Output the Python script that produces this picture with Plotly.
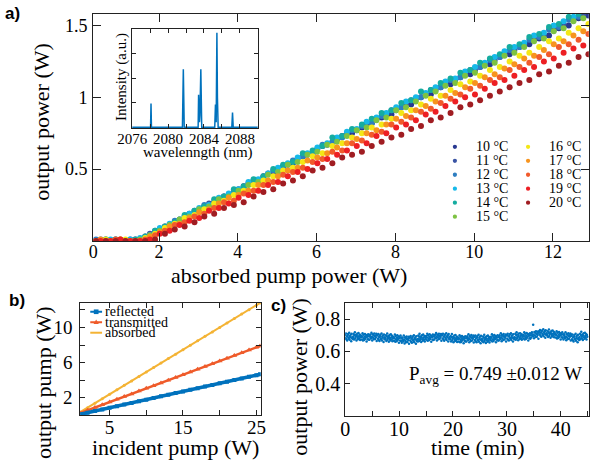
import plotly.graph_objects as go
import numpy as np

SERIF = "Liberation Serif"
SANS = "Liberation Sans"

# ---------------- panel a: output power vs absorbed pump power ----------------
abs_grid_a = [0.40, 0.65, 0.90, 1.15, 1.40, 1.65, 1.90, 2.15, 2.40, 2.65, 2.90, 3.15, 3.40,
              3.65, 3.90, 4.15, 4.40, 4.65, 4.90, 5.15, 5.40, 5.65, 5.90, 6.15, 6.40, 6.65,
              6.90, 7.15, 7.40, 7.65, 7.90, 8.15, 8.40, 8.65, 8.90, 9.15, 9.40, 9.65, 9.90,
              10.15, 10.40, 10.65, 10.90, 11.15, 11.40, 11.65, 11.90, 12.15, 12.40, 12.65, 12.90]
abs_grid_b = [0.52, 0.77, 1.02, 1.27, 1.52, 1.77, 2.02, 2.27, 2.52, 2.77, 3.02, 3.27, 3.52,
              3.77, 4.02, 4.27, 4.52, 4.77, 5.02, 5.27, 5.52, 5.77, 6.02, 6.27, 6.52, 6.77,
              7.02, 7.27, 7.52, 7.77, 8.02, 8.27, 8.52, 8.77, 9.02, 9.27, 9.52, 9.77, 10.02,
              10.27, 10.52, 10.77, 11.02, 11.27, 11.52, 11.77, 12.02, 12.27, 12.52, 12.77]

p10 = [0.00, 0.01, 0.00, 0.00, 0.01,
       0.03, 0.06, 0.10, 0.13, 0.17, 0.19, 0.24, 0.27, 0.31, 0.33, 0.38, 0.40, 0.45, 0.47, 0.52,
       0.54, 0.59, 0.61, 0.66, 0.68, 0.73, 0.75, 0.79, 0.82, 0.86, 0.88, 0.93, 0.95, 1.00, 1.02,
       1.07, 1.09, 1.14, 1.16, 1.21, 1.23, 1.28, 1.30, 1.35, 1.37, 1.41, 1.43, 1.48, 1.50, 1.55, 1.57]
p11 = [0.01, 0.00, 0.00, 0.01,
       0.01, 0.05, 0.08, 0.11, 0.15, 0.19, 0.21, 0.26, 0.29, 0.32, 0.36, 0.40, 0.42, 0.47, 0.49,
       0.53, 0.57, 0.60, 0.64, 0.67, 0.70, 0.75, 0.77, 0.81, 0.85, 0.88, 0.91, 0.95, 0.99, 1.02,
       1.05, 1.09, 1.12, 1.16, 1.19, 1.23, 1.26, 1.30, 1.33, 1.37, 1.40, 1.43, 1.47, 1.51, 1.54, 1.57]
p12 = [0.01, 0.00, 0.01, 0.00, 0.00,
       0.02, 0.07, 0.09, 0.14, 0.16, 0.21, 0.25, 0.26, 0.31, 0.35, 0.37, 0.42, 0.44, 0.49, 0.51,
       0.56, 0.59, 0.61, 0.67, 0.69, 0.72, 0.77, 0.80, 0.82, 0.87, 0.91, 0.93, 0.98, 1.00, 1.05,
       1.07, 1.12, 1.14, 1.19, 1.21, 1.26, 1.28, 1.33, 1.35, 1.40, 1.42, 1.47, 1.49, 1.54, 1.56, 1.60]
p13 = [0.00, 0.01, 0.00, 0.01,
       0.02, 0.04, 0.09, 0.12, 0.15, 0.19, 0.23, 0.25, 0.30, 0.33, 0.36, 0.41, 0.43, 0.47, 0.51,
       0.54, 0.58, 0.61, 0.65, 0.68, 0.72, 0.76, 0.78, 0.83, 0.86, 0.89, 0.93, 0.97, 1.00, 1.03,
       1.07, 1.11, 1.13, 1.18, 1.21, 1.24, 1.28, 1.32, 1.35, 1.38, 1.43, 1.45, 1.50, 1.53, 1.56, 1.60]
p14 = [0.00, 0.01, 0.01, 0.00, 0.01,
       0.03, 0.07, 0.10, 0.13, 0.18, 0.21, 0.24, 0.29, 0.31, 0.36, 0.38, 0.43, 0.45, 0.50, 0.53,
       0.55, 0.61, 0.63, 0.66, 0.72, 0.73, 0.78, 0.81, 0.85, 0.89, 0.91, 0.96, 0.98, 1.04, 1.05,
       1.10, 1.13, 1.17, 1.19, 1.24, 1.27, 1.30, 1.35, 1.37, 1.42, 1.44, 1.49, 1.51, 1.56, 1.58, 1.62]
p15 = [0.00, 0.00, 0.01, 0.00,
       0.01, 0.04, 0.07, 0.11, 0.15, 0.17, 0.22, 0.24, 0.29, 0.31, 0.35, 0.39, 0.41, 0.46, 0.48,
       0.53, 0.55, 0.60, 0.62, 0.67, 0.69, 0.73, 0.77, 0.79, 0.84, 0.86, 0.91, 0.93, 0.97, 1.01,
       1.04, 1.08, 1.10, 1.15, 1.17, 1.22, 1.24, 1.29, 1.31, 1.35, 1.39, 1.41, 1.46, 1.48, 1.53, 1.55]
p16 = [0.00, 0.01, 0.00, 0.01, 0.00,
       0.02, 0.05, 0.09, 0.12, 0.16, 0.18, 0.22, 0.26, 0.28, 0.32, 0.35, 0.39, 0.42, 0.45, 0.49,
       0.51, 0.55, 0.59, 0.61, 0.66, 0.68, 0.72, 0.75, 0.79, 0.81, 0.85, 0.89, 0.91, 0.95, 0.99,
       1.01, 1.05, 1.09, 1.11, 1.15, 1.19, 1.21, 1.25, 1.29, 1.31, 1.35, 1.39, 1.41, 1.45, 1.48, 1.51]
p17 = [0.01, 0.00, 0.01, 0.00, 0.00,
       0.03, 0.06, 0.10, 0.12, 0.16, 0.20, 0.22, 0.26, 0.30, 0.32, 0.35, 0.39, 0.42, 0.45, 0.49,
       0.51, 0.56, 0.58, 0.61, 0.65, 0.68, 0.71, 0.75, 0.77, 0.81, 0.85, 0.87, 0.91, 0.94, 0.97,
       1.01, 1.03, 1.07, 1.10, 1.14, 1.16, 1.20, 1.23, 1.27, 1.29, 1.33, 1.37, 1.39, 1.43, 1.46]
p18 = [0.00, 0.00, 0.01, 0.00, 0.00,
       0.01, 0.04, 0.07, 0.11, 0.13, 0.17, 0.19, 0.23, 0.27, 0.28, 0.33, 0.35, 0.39, 0.41, 0.46,
       0.48, 0.51, 0.55, 0.57, 0.62, 0.63, 0.68, 0.70, 0.74, 0.76, 0.81, 0.83, 0.86, 0.90, 0.92,
       0.96, 0.99, 1.02, 1.06, 1.08, 1.12, 1.14, 1.19, 1.21, 1.24, 1.28, 1.30, 1.35, 1.37, 1.40, 1.44]
p19 = [0.00, 0.00, 0.01, 0.00, 0.00,
       0.01, 0.05, 0.07, 0.11, 0.14, 0.16, 0.21, 0.23, 0.26, 0.30, 0.32, 0.35, 0.39, 0.41, 0.45,
       0.48, 0.50, 0.54, 0.57, 0.60, 0.63, 0.66, 0.68, 0.73, 0.75, 0.79, 0.81, 0.84, 0.88, 0.90,
       0.94, 0.97, 1.00, 1.02, 1.06, 1.10, 1.12, 1.15, 1.19, 1.21, 1.25, 1.27, 1.31, 1.34, 1.36]
p20 = [0.00, 0.00, 0.00, 0.00, 0.00, 0.00,
       0.01, 0.05, 0.08, 0.10, 0.13, 0.17, 0.19, 0.23, 0.25, 0.27, 0.31, 0.34, 0.36, 0.40, 0.42,
       0.45, 0.49, 0.51, 0.54, 0.58, 0.60, 0.62, 0.66, 0.69, 0.72, 0.74, 0.78, 0.80, 0.84, 0.86,
       0.89, 0.93, 0.95, 0.98, 1.01, 1.04, 1.07, 1.10, 1.12, 1.16, 1.18, 1.22, 1.24, 1.28, 1.30]

temp_labels = ["10 °C", "11 °C", "12 °C", "13 °C", "14 °C", "15 °C",
               "16 °C", "17 °C", "18 °C", "19 °C", "20 °C"]
temp_series = [p10, p11, p12, p13, p14, p15, p16, p17, p18, p19, p20]
temp_grids = [abs_grid_a, abs_grid_b, abs_grid_a, abs_grid_b, abs_grid_a, abs_grid_b,
              abs_grid_a, abs_grid_b, abs_grid_a, abs_grid_b, abs_grid_a]
temp_colors = ["#283891", "#3A54A4", "#2E7EC1", "#16B9E9", "#15ACA0", "#7DC242",
               "#F3E716", "#F7941E", "#F15A2B", "#ED1F24", "#A01D22"]

# inset: laser spectrum
wavelength = [2076.0, 2078.05, 2078.1, 2078.15, 2081.6, 2081.7, 2081.8, 2083.35, 2083.4,
              2083.5, 2083.55, 2083.65, 2083.75, 2085.2, 2085.28, 2085.36, 2085.44, 2085.5,
              2085.58, 2087.1, 2087.18, 2087.26, 2090.0]
intensity = [0, 0, 0.24, 0, 0, 0.59, 0, 0, 0.33, 0.05, 0.12, 0.59, 0, 0, 0.23, 0.05,
             0.96, 0.3, 0, 0, 0.15, 0, 0]

# ---------------- panel b: pump budget ----------------
incident_pump = [1, 2, 3, 4, 5, 6, 7, 8, 9, 10, 11, 12, 13, 14, 15, 16, 17, 18, 19, 20,
                 21, 22, 23, 24, 25, 25.5]
reflected = [0.10, 0.29, 0.47, 0.66, 0.84, 1.03, 1.22, 1.40, 1.59, 1.77, 1.96, 2.15, 2.33,
             2.52, 2.70, 2.89, 3.08, 3.26, 3.45, 3.63, 3.82, 4.01, 4.19, 4.38, 4.56, 4.66]
transmitted = [0.25, 0.56, 0.87, 1.19, 1.50, 1.81, 2.12, 2.43, 2.75, 3.06, 3.37, 3.68, 3.99,
               4.31, 4.62, 4.93, 5.24, 5.55, 5.87, 6.18, 6.49, 6.80, 7.11, 7.43, 7.74, 7.89]
absorbed = [0.35, 0.86, 1.37, 1.87, 2.38, 2.89, 3.40, 3.91, 4.41, 4.92, 5.43, 5.94, 6.45,
            6.95, 7.46, 7.97, 8.48, 8.99, 9.49, 10.00, 10.51, 11.02, 11.53, 12.03, 12.54, 12.80]

# ---------------- panel c: power stability (mW, one sample every 4.5 s) ----------------
sample_step_min = 0.075
stability_mw = [
    702, 682, 711, 675, 693, 668, 699, 707, 686, 679, 715, 672, 696, 688, 704, 663, 709, 681, 691, 677,
    687, 708, 673, 700, 719, 680, 691, 703, 668, 696, 710, 685, 676, 714, 694, 682, 705, 671, 699, 689,
    697, 674, 690, 712, 668, 703, 682, 671, 693, 708, 679, 687, 701, 662, 698, 691, 676, 706, 673, 694,
    672, 697, 704, 687, 680, 716, 691, 667, 706, 684, 701, 675, 711, 694, 677, 698, 688, 709, 665, 702,
    698, 678, 707, 671, 689, 664, 695, 703, 682, 675, 711, 668, 692, 684, 700, 659, 705, 677, 687, 673,
    679, 700, 665, 692, 711, 672, 683, 695, 660, 688, 702, 677, 668, 706, 686, 674, 697, 663, 691, 681,
    689, 666, 682, 704, 660, 695, 674, 663, 685, 700, 671, 679, 693, 654, 690, 683, 668, 698, 665, 686,
    654, 679, 686, 669, 662, 698, 673, 649, 688, 666, 683, 657, 693, 676, 659, 680, 670, 691, 647, 684,
    687, 667, 696, 660, 678, 653, 684, 692, 671, 664, 700, 657, 681, 673, 689, 648, 694, 666, 676, 662,
    677, 698, 663, 690, 709, 670, 681, 693, 658, 686, 700, 675, 666, 704, 684, 672, 695, 661, 689, 679,
    695, 672, 688, 710, 666, 701, 680, 669, 691, 706, 677, 685, 699, 660, 696, 689, 674, 704, 671, 692,
    674, 699, 703, 685, 681, 714, 692, 668, 705, 686, 700, 676, 710, 693, 679, 697, 689, 708, 666, 701,
    700, 680, 709, 673, 691, 666, 697, 705, 684, 677, 713, 670, 694, 686, 702, 661, 707, 679, 689, 675,
    675, 696, 661, 688, 707, 668, 679, 691, 656, 684, 698, 673, 664, 702, 682, 670, 693, 659, 687, 677,
    685, 662, 678, 700, 656, 691, 670, 659, 681, 696, 667, 675, 689, 650, 686, 679, 664, 694, 661, 682,
    662, 687, 694, 677, 670, 706, 681, 657, 696, 674, 691, 665, 701, 684, 667, 688, 678, 699, 655, 692,
    690, 670, 699, 663, 681, 656, 687, 695, 674, 667, 703, 660, 684, 676, 692, 651, 697, 669, 679, 665,
    671, 692, 657, 684, 703, 664, 675, 687, 652, 680, 694, 669, 660, 698, 678, 666, 689, 655, 683, 673,
    691, 668, 684, 706, 662, 697, 676, 665, 687, 702, 673, 681, 695, 656, 692, 685, 670, 700, 667, 688,
    668, 693, 700, 683, 676, 712, 687, 663, 702, 680, 697, 671, 707, 690, 673, 694, 684, 705, 661, 698,
    701, 679, 710, 672, 692, 667, 696, 706, 683, 678, 712, 671, 695, 685, 703, 662, 706, 680, 688, 676,
    686, 709, 672, 701, 718, 681, 690, 704, 669, 695, 711, 684, 677, 713, 695, 681, 706, 672, 698, 690,
    703, 680, 696, 718, 674, 709, 688, 677, 699, 714, 685, 693, 707, 668, 704, 697, 682, 712, 679, 700,
    686, 711, 718, 701, 694, 765, 705, 681, 720, 698, 715, 689, 725, 708, 691, 712, 702, 723, 679, 716,
    724, 704, 733, 697, 715, 690, 721, 729, 708, 701, 737, 694, 718, 710, 726, 685, 731, 703, 713, 699,
    703, 724, 689, 716, 735, 696, 707, 719, 684, 712, 726, 701, 692, 730, 710, 698, 721, 687, 715, 705,
    709, 686, 702, 724, 680, 715, 694, 683, 705, 720, 691, 699, 713, 674, 710, 703, 688, 718, 685, 706,
    674, 699, 706, 689, 682, 718, 693, 669, 708, 686, 703, 677, 713, 696, 679, 700, 690, 711, 667, 704,
    696, 676, 705, 669, 687, 662, 693, 701, 680, 673, 709, 666, 690, 682, 698, 657, 703, 675, 685, 671,
    689, 710, 675, 702, 721, 682, 693, 705, 670, 698, 712, 687, 678, 716, 696, 684, 707, 673, 701, 691,
]
time_min = np.arange(len(stability_mw)) * sample_step_min
stability_w = np.array(stability_mw) / 1000.0

BLUE = "#0072BD"
AX = "#222222"


def axis(**kw):
    d = dict(showline=True, linecolor=AX, linewidth=1, mirror="ticks", ticks="inside",
             ticklen=6, tickcolor=AX, tickwidth=1, showgrid=False, zeroline=False,
             automargin=False,
             tickfont=dict(family=SERIF, size=18, color="black"))
    d.update(kw)
    return d


fig = go.Figure()

# panel a scatter
for label, xs, ys, col in zip(temp_labels, temp_grids, temp_series, temp_colors):
    fig.add_trace(go.Scatter(x=xs, y=ys, mode="markers", name=label,
                             marker=dict(size=6, color=col), xaxis="x", yaxis="y",
                             showlegend=False))

# inset spectrum
fig.add_trace(go.Scatter(x=wavelength, y=intensity, mode="lines",
                         line=dict(color=BLUE, width=1.5), xaxis="x2", yaxis="y2",
                         showlegend=False))

# panel b
fig.add_trace(go.Scatter(x=incident_pump, y=absorbed, mode="lines+markers",
                         line=dict(color="#F4B334", width=2),
                         marker=dict(size=3, color="#F4B334"),
                         xaxis="x3", yaxis="y3", showlegend=False))
fig.add_trace(go.Scatter(x=incident_pump, y=transmitted, mode="lines+markers",
                         line=dict(color="#EF5B2A", width=2.5),
                         marker=dict(size=5, symbol="triangle-up", color="#EF5B2A"),
                         xaxis="x3", yaxis="y3", showlegend=False))
fig.add_trace(go.Scatter(x=incident_pump, y=reflected, mode="lines+markers",
                         line=dict(color=BLUE, width=3.5),
                         marker=dict(size=4, symbol="square", color=BLUE),
                         xaxis="x3", yaxis="y3", showlegend=False))

# panel c
fig.add_trace(go.Scatter(x=time_min, y=stability_w, mode="markers",
                         marker=dict(size=2.5, color=BLUE), xaxis="x4", yaxis="y4",
                         showlegend=False))

fig.update_layout(
    template="none",
    width=590, height=466, autosize=False,
    margin=dict(l=0, r=0, t=0, b=0),
    paper_bgcolor="white", plot_bgcolor="white",
    showlegend=False,
    font=dict(family=SERIF, color="black"),
    xaxis=axis(domain=[0.158, 0.998], range=[0.33, 12.91], anchor="y",
               tickvals=[0.33, 2, 4, 6, 8, 10, 12],
               ticktext=["0", "2", "4", "6", "8", "10", "12"], ticklen=8,
               ticklabelstandoff=-6),
    yaxis=axis(domain=[0.483, 0.970], range=[0, 1.58], anchor="x",
               tickvals=[0.5, 1, 1.5], ticktext=["0.5", "1", "1.5"], ticklen=8,
               ticklabelstandoff=1),
    xaxis2=axis(domain=[0.224, 0.437], range=[2076, 2090], anchor="y2",
                tickvals=[2076, 2078, 2080, 2082, 2084, 2086, 2088, 2090],
                ticktext=["2076", "", "2080", "", "2084", "", "2088", ""],
                ticklen=4, ticklabelstandoff=-3,
                tickfont=dict(family=SERIF, size=15, color="black")),
    yaxis2=axis(domain=[0.725, 0.938], range=[-0.01, 1], anchor="x2",
                tickvals=[0.25, 0.5, 0.75], showticklabels=False, ticklen=4),
    xaxis3=axis(domain=[0.136, 0.442], range=[1, 25.6], anchor="y3",
                tickvals=[5, 10, 15, 20, 25], ticktext=["5", "", "15", "", "25"],
                ticklen=5, ticklabelstandoff=-5,
                tickfont=dict(family=SERIF, size=19, color="black")),
    yaxis3=axis(domain=[0.109, 0.350], range=[0, 12.8], anchor="x3",
                tickvals=[2, 4, 6, 8, 10, 12], ticktext=["2", "", "6", "", "10", ""],
                ticklen=5, ticklabelstandoff=3,
                tickfont=dict(family=SERIF, size=19, color="black")),
    xaxis4=axis(domain=[0.585, 0.998], range=[0, 45.2], anchor="y4",
                tickvals=[0, 5, 10, 15, 20, 25, 30, 35, 40, 45],
                ticktext=["0", "", "10", "", "20", "", "30", "", "40", ""],
                ticklen=5, ticklabelstandoff=-5,
                tickfont=dict(family=SERIF, size=20, color="black")),
    yaxis4=axis(domain=[0.107, 0.350], range=[0.2, 0.9], anchor="x4",
                tickvals=[0.4, 0.6, 0.8], ticktext=["0.4", "0.6", "0.8"], ticklen=5,
                tickfont=dict(family=SERIF, size=20, color="black")),
)

ann = []


def text(x, y, s, size, angle=0, family=SERIF, xanchor="center", bold=False):
    ann.append(dict(x=x, y=y, xref="paper", yref="paper", text=f"<b>{s}</b>" if bold else s,
                    showarrow=False, textangle=angle, xanchor=xanchor, yanchor="middle",
                    font=dict(family=family, size=size, color="black")))


# axis titles
text(0.490, 0.408, "absorbed pump power (W)", 22)
text(0.069, 0.738, "output power (W)", 22, angle=-90)
text(0.335, 0.672, "wavelenngth (nm)", 15)
text(0.207, 0.835, "Intensity (a.u.)", 15, angle=-90)
text(0.298, 0.039, "incident pump (W)", 22)
text(0.073, 0.178, "output pump (W)", 22, angle=-90)
text(0.810, 0.039, "time (min)", 22)
text(0.508, 0.191, "output power (W)", 22, angle=-90)

# panel letters
text(0.022, 0.972, "a)", 17, family=SANS, bold=True)
text(0.029, 0.356, "b)", 17, family=SANS, bold=True)
text(0.472, 0.345, "c)", 17, family=SANS, bold=True)

# stability annotation
text(0.690, 0.196, "P<sub>avg</sub> = 0.749 ±0.012 W", 19, xanchor="left")

# legend of panel a (two columns)
shapes = []
leg_x = [(0.771, 0.803), (0.895, 0.927)]
leg_y0, leg_dy = 0.685, 0.0300
for i, (label, col) in enumerate(zip(temp_labels, temp_colors)):
    c, r = (0, i) if i < 6 else (1, i - 6)
    mx, tx = leg_x[c]
    my = leg_y0 - r * leg_dy
    shapes.append(dict(type="circle", xref="paper", yref="paper",
                       x0=mx - 0.0036, x1=mx + 0.0036, y0=my - 0.0046, y1=my + 0.0046,
                       fillcolor=col, line=dict(width=0)))
    text(tx, my, label, 14, xanchor="left")

# legend of panel b
b_entries = [("reflected", BLUE, "square"), ("transmitted", "#EF5B2A", "tri"),
             ("absorbed", "#F4B334", "dot")]
bx0, bx1, btx = 0.153, 0.173, 0.175
by0, bdy = 0.331, 0.0225
for i, (label, col, sym) in enumerate(b_entries):
    y = by0 - i * bdy
    shapes.append(dict(type="line", xref="paper", yref="paper", x0=bx0, x1=bx1, y0=y, y1=y,
                       line=dict(color=col, width=2)))
    xm = (bx0 + bx1) / 2
    if sym == "square":
        shapes.append(dict(type="rect", xref="paper", yref="paper", x0=xm - 0.004, x1=xm + 0.004,
                           y0=y - 0.005, y1=y + 0.005, fillcolor=col, line=dict(width=0)))
    elif sym == "tri":
        shapes.append(dict(type="path", xref="paper", yref="paper",
                           path=f"M {xm - 0.0045} {y - 0.004} L {xm + 0.0045} {y - 0.004} L {xm} {y + 0.006} Z",
                           fillcolor=col, line=dict(width=0)))
    text(btx, y, label, 14, xanchor="left")

fig.update_layout(annotations=ann, shapes=shapes)

# the page body has a default 8px margin; remove it so the figure fills the window
fig.write_html("out.html", config={"displayModeBar": False},
               post_script="document.body.style.margin='0';")
